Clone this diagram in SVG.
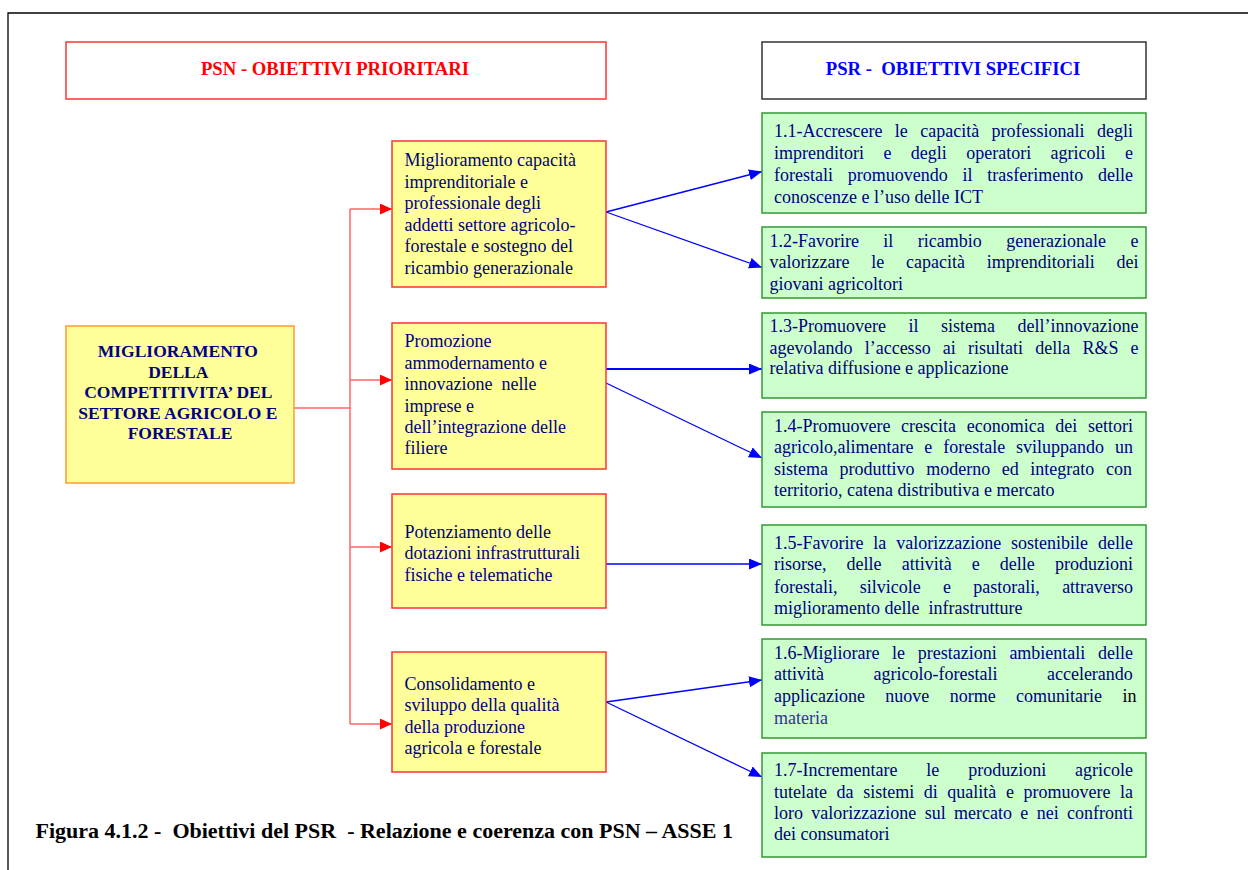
<svg xmlns="http://www.w3.org/2000/svg" width="1248" height="870" viewBox="0 0 1248 870">
<style>
.t{font-family:"Liberation Serif","Times New Roman",serif;font-size:18px;fill:#000080}
.b{font-weight:bold}
.yb{fill:#FFFF99;stroke:#FF3333;stroke-width:1.5}
.gb{fill:#CCFFCC;stroke:#339933;stroke-width:1.5}
.rl{stroke:#FF6666;stroke-width:1.5;fill:none}
.bl{stroke:#0000FF;stroke-width:1.3;fill:none}
</style>
<defs>
<marker id="ab" viewBox="0 0 13 11" refX="13" refY="5.5" markerWidth="13" markerHeight="11" markerUnits="userSpaceOnUse" orient="auto"><path d="M0,0 L13,5.5 L0,11 z" fill="#0000FF"/></marker>
<marker id="ar" viewBox="0 0 12 11" refX="12" refY="5.5" markerWidth="12" markerHeight="11" markerUnits="userSpaceOnUse" orient="auto"><path d="M0,0 L12,5.5 L0,11 z" fill="#FF0000"/></marker>
</defs>
<rect width="1248" height="870" fill="#FFFFFF"/>
<path d="M8,870 L8,13 L1248,13" fill="none" stroke="#000" stroke-width="1.3"/>

<g id="hdr-psn">
<rect x="66" y="42" width="540" height="57" fill="#FFFFFF" stroke="#FF3333" stroke-width="1.5"/>
<text class="t b" x="335" y="75" text-anchor="middle" style="fill:#FF0000;font-size:18.7px">PSN - OBIETTIVI PRIORITARI</text>
</g>
<g id="hdr-psr">
<rect x="762" y="42" width="384" height="57" fill="#FFFFFF" stroke="#333333" stroke-width="1.5"/>
<text class="t b" x="953" y="75" text-anchor="middle" style="fill:#0000FF;font-size:18.7px" xml:space="preserve">PSR -  OBIETTIVI SPECIFICI</text>
</g>

<g id="connectors">
<path class="rl" d="M294,408 H350 M350,209 V724"/>
<path class="rl" d="M350,209 H392" marker-end="url(#ar)"/>
<path class="rl" d="M350,380 H392" marker-end="url(#ar)"/>
<path class="rl" d="M350,547 H392" marker-end="url(#ar)"/>
<path class="rl" d="M350,724 H392" marker-end="url(#ar)"/>
<path class="bl" d="M606,212 L762,171.5" marker-end="url(#ab)"/>
<path class="bl" d="M606,212 L762,267.5" marker-end="url(#ab)"/>
<path class="bl" d="M606,369 L762,369" style="stroke-width:2" marker-end="url(#ab)"/>
<path class="bl" d="M606,383 L762,458" marker-end="url(#ab)"/>
<path class="bl" d="M606,564 L762,564" marker-end="url(#ab)"/>
<path class="bl" d="M606,702 L762,680" marker-end="url(#ab)"/>
<path class="bl" d="M606,702 L762,777" marker-end="url(#ab)"/>
</g>

<g id="main">
<rect x="66" y="326" width="228" height="157" fill="#FFFF99" stroke="#FF9933" stroke-width="1.5"/>
<text class="t b" text-anchor="middle" style="font-size:17.5px">
<tspan x="180" y="357">MIGLIORAMENTO</tspan>
<tspan x="180" y="377.5">DELLA</tspan>
<tspan x="180" y="398">COMPETITIVITA’ DEL</tspan>
<tspan x="180" y="418.5">SETTORE AGRICOLO E</tspan>
<tspan x="180" y="439">FORESTALE</tspan>
</text>
</g>

<g id="p1">
<rect class="yb" x="392" y="141" width="214" height="146"/>
<text class="t">
<tspan x="404.5" y="166">Miglioramento capacità</tspan>
<tspan x="404.5" y="187.5">imprenditoriale e</tspan>
<tspan x="404.5" y="209">professionale degli</tspan>
<tspan x="404.5" y="230.5">addetti settore agricolo-</tspan>
<tspan x="404.5" y="252">forestale e sostegno del</tspan>
<tspan x="404.5" y="273.5">ricambio generazionale</tspan>
</text>
</g>
<g id="p2">
<rect class="yb" x="392" y="323" width="214" height="146"/>
<text class="t" xml:space="preserve"><tspan x="404.5" y="347">Promozione</tspan><tspan x="404.5" y="368.5">ammodernamento e</tspan><tspan x="404.5" y="390">innovazione  nelle</tspan><tspan x="404.5" y="411.5">imprese e</tspan><tspan x="404.5" y="433">dell’integrazione delle</tspan><tspan x="404.5" y="454">filiere</tspan></text>
</g>
<g id="p3">
<rect class="yb" x="392" y="494" width="214" height="114"/>
<text class="t">
<tspan x="404.5" y="537.5">Potenziamento delle</tspan>
<tspan x="404.5" y="559">dotazioni infrastrutturali</tspan>
<tspan x="404.5" y="580.5">fisiche e telematiche</tspan>
</text>
</g>
<g id="p4">
<rect class="yb" x="392" y="652" width="214" height="120"/>
<text class="t">
<tspan x="404.5" y="689.5">Consolidamento e</tspan>
<tspan x="404.5" y="711">sviluppo della qualità</tspan>
<tspan x="404.5" y="732.5">della produzione</tspan>
<tspan x="404.5" y="754">agricola e forestale</tspan>
</text>
</g>

<g id="s11">
<rect class="gb" x="762" y="113" width="384" height="100"/>
<text class="t" x="774" y="137" style="word-spacing:7.9px">1.1-Accrescere le capacità professionali degli</text>
<text class="t" x="774" y="159" style="word-spacing:14.9px">imprenditori e degli operatori agricoli e</text>
<text class="t" x="774" y="181" style="word-spacing:10.3px">forestali promuovendo il trasferimento delle</text>
<text class="t" x="774" y="202.5">conoscenze e l’uso delle ICT</text>
</g>
<g id="s12">
<rect class="gb" x="762" y="227" width="384" height="71"/>
<text class="t" x="769.5" y="247" style="word-spacing:19.9px">1.2-Favorire il ricambio generazionale e</text>
<text class="t" x="769.5" y="267.5" style="word-spacing:17.3px">valorizzare le capacità imprenditoriali dei</text>
<text class="t" x="769.5" y="289.5">giovani agricoltori</text>
</g>
<g id="s13">
<rect class="gb" x="762" y="313" width="384" height="85"/>
<text class="t" x="769.5" y="332" style="word-spacing:18px">1.3-Promuovere il sistema dell’innovazione</text>
<text class="t" x="769.5" y="353.5" style="word-spacing:7.7px">agevolando l’accesso ai risultati della R&amp;S e</text>
<text class="t" x="769.5" y="374">relativa diffusione e applicazione</text>
</g>
<g id="s14">
<rect class="gb" x="762" y="412" width="384" height="95"/>
<text class="t" x="774" y="432" style="word-spacing:6.15px">1.4-Promuovere crescita economica dei settori</text>
<text class="t" x="774" y="453" style="word-spacing:6.4px">agricolo,alimentare e forestale sviluppando un</text>
<text class="t" x="774" y="475" style="word-spacing:7.1px">sistema produttivo moderno ed integrato con</text>
<text class="t" x="774" y="496">territorio, catena distributiva e mercato</text>
</g>
<g id="s15">
<rect class="gb" x="762" y="525" width="384" height="100"/>
<text class="t" x="774" y="548.5" style="word-spacing:5.4px">1.5-Favorire la valorizzazione sostenibile delle</text>
<text class="t" x="774" y="570" style="word-spacing:15.6px">risorse, delle attività e delle produzioni</text>
<text class="t" x="774" y="592.5" style="word-spacing:17.8px">forestali, silvicole e pastorali, attraverso</text>
<text class="t" x="774" y="613.5" xml:space="preserve">miglioramento delle  infrastrutture</text>
</g>
<g id="s16">
<rect class="gb" x="762" y="639" width="384" height="99"/>
<text class="t" x="774" y="658.5" style="word-spacing:8.15px">1.6-Migliorare le prestazioni ambientali delle</text>
<text class="t" x="774" y="680" style="word-spacing:45px">attività agricolo-forestali accelerando</text>
<text class="t" x="774" y="701.5" style="word-spacing:15.9px">applicazione nuove norme comunitarie <tspan style="fill:#000000">in</tspan></text>
<text class="t" x="774" y="723.5" style="fill:#333399">materia</text>
</g>
<g id="s17">
<rect class="gb" x="762" y="753" width="384" height="104"/>
<text class="t" x="774" y="776" style="word-spacing:24.4px">1.7-Incrementare le produzioni agricole</text>
<text class="t" x="774" y="797.5" style="word-spacing:5.1px">tutelate da sistemi di qualità e promuovere la</text>
<text class="t" x="774" y="819" style="word-spacing:3.85px">loro valorizzazione sul mercato e nei confronti</text>
<text class="t" x="774" y="840">dei consumatori</text>
</g>

<g id="caption">
<text class="t b" x="35.5" y="837.5" style="fill:#000000;font-size:22px" xml:space="preserve">Figura 4.1.2 -  Obiettivi del PSR  - Relazione e coerenza con PSN – ASSE 1</text>
</g>
</svg>
